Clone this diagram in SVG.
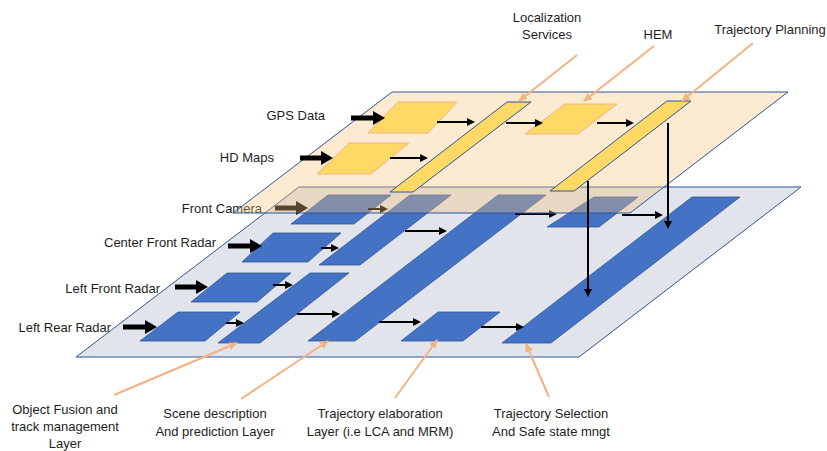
<svg xmlns="http://www.w3.org/2000/svg" width="827" height="451" viewBox="0 0 827 451">
<defs>
<style>
.plane-low{fill:#E1E4EA;stroke:#2F5597;stroke-width:1}
.plane-up{fill:#F5C27A;fill-opacity:0.35;stroke:#2F5597;stroke-width:1}
.blue{fill:#4472C4;stroke:#2F528F;stroke-width:0.75}
.yel-o{fill:#FFD966;stroke:#F4B183;stroke-width:1}
.yel-b{fill:#FFD966;stroke:#2F5597;stroke-width:1}
.thin{stroke:#000;stroke-width:2;fill:none;marker-end:url(#ah)}
.thick{stroke:#000;stroke-width:5;fill:none;marker-end:url(#ahB)}
.lead{stroke:#F4B183;stroke-width:2;fill:none;marker-end:url(#ahO)}
text{font-family:"Liberation Sans",Arial,sans-serif;font-size:13px;fill:#1e1e1e}
.c{text-anchor:middle}
.e{text-anchor:end}
</style>
<marker id="ah" markerUnits="userSpaceOnUse" viewBox="0 0 8 8" markerWidth="8" markerHeight="8" refX="1" refY="4" orient="auto"><path d="M0,0 L8,4 L0,8 z" fill="#000"/></marker>
<marker id="ahB" markerUnits="userSpaceOnUse" viewBox="0 0 12 14" markerWidth="12" markerHeight="14" refX="1" refY="7" orient="auto"><path d="M0,0 L12,7 L0,14 z" fill="#000"/></marker>
<marker id="ahO" markerUnits="userSpaceOnUse" viewBox="0 0 9 8" markerWidth="9" markerHeight="8" refX="8" refY="4" orient="auto"><path d="M0,0 L9,4 L0,8 z" fill="#F4B183"/></marker>
</defs>

<g id="lower-plane">
<polygon class="plane-low" points="299,187 801,187 579,357 76,357"/>
</g>

<g id="lower-nodes">
<polygon id="front-camera-box" class="blue" points="328,195 391,195 354,224 291,224"/>
<polygon id="center-front-box" class="blue" points="273,233 341,233 308,262 242,262"/>
<polygon id="left-front-box" class="blue" points="227,273 291,273 257,302 191,302"/>
<polygon id="left-rear-box" class="blue" points="178,312 240,312 205,341 140,341"/>
<polygon id="fusion-bar-a" class="blue" points="410,195 451,195 360,265 319,265"/>
<polygon id="fusion-bar-b" class="blue" points="310,273 349,273 260,343 218,343"/>
<polygon id="scene-bar" class="blue" points="498,195 546,195 355,341 308,341"/>
<polygon id="elab-box-up" class="blue" points="594,197 638,197 599,227 547,227"/>
<polygon id="elab-box-low" class="blue" points="438,312 500,312 463,341 401,341"/>
<polygon id="selection-bar" class="blue" points="692,197 740,197 551,343 502,343"/>
</g>

<g id="lower-connectors">
<line class="thick" x1="275" y1="208" x2="297" y2="208"/>
<line class="thick" x1="228" y1="246" x2="251" y2="246"/>
<line class="thick" x1="175" y1="287" x2="197" y2="287"/>
<line class="thick" x1="123" y1="327" x2="146" y2="327"/>
<line class="thin" x1="368" y1="209" x2="381" y2="209"/>
<line class="thin" x1="321" y1="248" x2="332" y2="248"/>
<line class="thin" x1="273" y1="285" x2="286" y2="285"/>
<line class="thin" x1="226" y1="323" x2="237" y2="323"/>
<line class="thin" x1="405" y1="231" x2="440" y2="231"/>
<line class="thin" x1="297" y1="314" x2="333" y2="314"/>
<line class="thin" x1="515" y1="214" x2="550" y2="214"/>
<line class="thin" x1="622" y1="215" x2="656" y2="215"/>
<line class="thin" x1="379" y1="322" x2="414" y2="322"/>
<line class="thin" x1="481" y1="327" x2="517" y2="327"/>
</g>

<g id="input-labels-lower">
<text class="e" x="262" y="212.5">Front Camera</text>
<text class="e" x="216" y="246.5">Center Front Radar</text>
<text class="e" x="160" y="292.5">Left Front Radar</text>
<text class="e" x="111" y="331.5">Left Rear Radar</text>
</g>

<g id="upper-plane">
<polygon class="plane-up" points="392,92 788,92 630,213 233,213"/>
</g>

<g id="upper-nodes">
<polygon id="gps-box" class="yel-o" points="398,102 457,102 428,133 368,133"/>
<polygon id="hdmaps-box" class="yel-o" points="349,143 409,143 371,174 317,174"/>
<polygon id="localization-bar" class="yel-b" points="507,102 531,102 413,192 390,192"/>
<polygon id="hem-box" class="yel-o" points="565,104 617,104 578,134 525,134"/>
<polygon id="planning-bar" class="yel-b" points="667,101 691,101 574,191 550,191"/>
</g>

<g id="upper-connectors">
<line class="thick" x1="351" y1="118" x2="374" y2="118"/>
<line class="thick" x1="300" y1="158" x2="322" y2="158"/>
<line class="thin" x1="437" y1="122" x2="468" y2="122"/>
<line class="thin" x1="390" y1="158" x2="421" y2="158"/>
<line class="thin" x1="506" y1="123" x2="536" y2="123"/>
<line class="thin" x1="597" y1="123" x2="627" y2="123"/>
<line class="thin" x1="668" y1="123" x2="668" y2="222"/>
<line class="thin" x1="588" y1="181" x2="588" y2="290"/>
</g>

<g id="input-labels-upper">
<text class="e" x="325" y="120">GPS Data</text>
<text class="e" x="274" y="162">HD Maps</text>
</g>

<g id="leaders">
<line class="lead" x1="577" y1="55" x2="519" y2="101"/>
<line class="lead" x1="654" y1="46" x2="584" y2="101"/>
<line class="lead" x1="753" y1="43" x2="682" y2="101"/>
<line class="lead" x1="114" y1="395" x2="237" y2="343"/>
<line class="lead" x1="241" y1="399" x2="328" y2="341"/>
<line class="lead" x1="395" y1="398" x2="437" y2="340"/>
<line class="lead" x1="549" y1="397" x2="526" y2="344"/>
</g>

<g id="layer-labels">
<text class="c" x="547" y="22">Localization</text>
<text class="c" x="547" y="39">Services</text>
<text class="c" x="658" y="38.5">HEM</text>
<text class="c" x="770" y="34">Trajectory Planning</text>
<text class="c" x="65" y="413.5">Object Fusion and</text>
<text class="c" x="65" y="431">track management</text>
<text class="c" x="65" y="447.5">Layer</text>
<text class="c" x="215" y="417.5">Scene description</text>
<text class="c" x="215" y="435.5">And prediction Layer</text>
<text class="c" x="380" y="417.5">Trajectory elaboration</text>
<text class="c" x="380" y="435.5">Layer (i.e LCA and MRM)</text>
<text class="c" x="551" y="417.5">Trajectory Selection</text>
<text class="c" x="551" y="435.5">And Safe state mngt</text>
</g>
</svg>
